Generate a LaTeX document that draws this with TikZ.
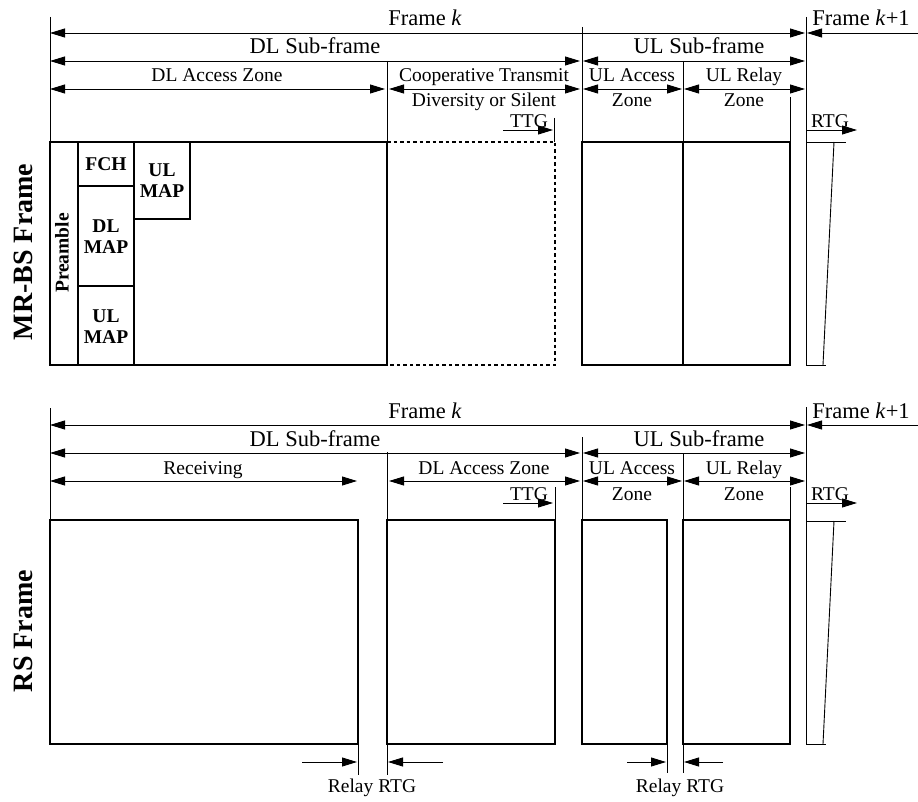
\documentclass[tikz,border=0pt]{standalone}
\usepackage{fontspec}
\setmainfont{Liberation Serif}
\usetikzlibrary{arrows.meta}
\begin{document}
\begin{tikzpicture}[x=1pt,y=-1pt,
  hair/.style={line width=0.9pt},
  frm/.style={line width=2pt},
  dim/.style={hair,{Triangle[length=15pt,width=9pt]}-{Triangle[length=15pt,width=9pt]}},
  rdim/.style={hair,-{Triangle[length=15pt,width=9pt]}},
  ldim/.style={hair,{Triangle[length=15pt,width=9pt]}-},
  lbl/.style={font=\fontsize{19.5}{21}\selectfont,inner sep=0pt,anchor=base},
  big/.style={font=\fontsize{22.5}{24}\selectfont,inner sep=0pt,anchor=base},
  bx/.style={font=\bfseries\fontsize{19.5}{21}\selectfont,align=center,inner sep=0pt},
  ttl/.style={font=\bfseries\fontsize{28}{30}\selectfont,rotate=90,inner sep=0pt}]
\useasboundingbox (0,0) rectangle (918,802);

%%%%%%%%%%%%%%%% Upper panel: MR-BS frame
% guide lines
\draw[hair] (50,17) -- (50,142);
\draw[hair] (387,61) -- (387,142);
\draw[hair] (582,27) -- (582,142);
\draw[hair] (683,61) -- (683,142);
\draw[hair] (806,17) -- (806,365);
\draw[hair] (790,97) -- (790,142);
\draw[hair] (554,118) -- (554,142);
% dimension arrows
\draw[dim] (50,33) -- (805,33);
\draw[ldim] (807,33) -- (918,33);
\draw[dim] (50,61) -- (580,61);
\draw[dim] (583,61) -- (805,61);
\draw[dim] (50,89) -- (385,89);
\draw[dim] (389,89) -- (580,89);
\draw[dim] (583,89) -- (682,89);
\draw[dim] (684,89) -- (805,89);
\draw[rdim] (503,130) -- (553,130);
\draw[rdim] (807,130) -- (857,130);
% labels
\node[big] (fk1) at (425,26) {Frame \textit{k}};
\node[big] (fkp1) at (861,26) {Frame \textit{k}+1};
\node[big] (dls1) at (315,54) {DL Sub-frame};
\node[big] (uls1) at (699,54) {UL Sub-frame};
\node[lbl] (dla1) at (217,82) {DL Access Zone};
\node[lbl] (coop1) at (484,82) {Cooperative Transmit};
\node[lbl] (coop2) at (484,107) {Diversity or Silent};
\node[lbl] (ula1) at (632,82) {UL Access};
\node[lbl] (ula2) at (632,107) {Zone};
\node[lbl] (ulr1) at (744,82) {UL Relay};
\node[lbl] (ulr2) at (744,107) {Zone};
\node[lbl] (ttg1) at (529,128) {TTG};
\node[lbl] (rtg1) at (830,128) {RTG};
% frame boxes
\draw[frm] (50,142) rectangle (387,365);
\draw[frm] (78,142) -- (78,365);
\draw[frm] (134,142) -- (134,365);
\draw[frm] (78,186) -- (134,186);
\draw[frm] (78,286) -- (134,286);
\draw[frm] (134,219) -- (190,219) -- (190,142);
\draw[frm,dash pattern=on 3.5pt off 3pt] (387,142) -- (555,142) -- (555,365) -- (387,365);
\draw[frm] (582,142) rectangle (790,365);
\draw[frm] (683,142) -- (683,365);
% RTG gap shape
\draw[hair] (806,142) -- (846,142);
\draw[hair] (834,142) -- (823,365);
\draw[hair] (806,365) -- (826,365);
% box texts
\node[ttl] (mrbs) at (23,252) {MR-BS Frame};
\node[bx,rotate=90] (pre) at (62,253) {Preamble};
\node[bx] (fch) at (106,164) {FCH};
\node[bx] (dlmap) at (106,237) {DL\\MAP};
\node[bx] (ulmap1) at (106,327) {UL\\MAP};
\node[bx] (ulmap2) at (162,181) {UL\\MAP};

%%%%%%%%%%%%%%%% Lower panel: RS frame
\draw[hair] (50,408) -- (50,520);
\draw[hair] (387,452) -- (387,520);
\draw[hair] (582,437) -- (582,520);
\draw[hair] (683,453) -- (683,520);
\draw[hair] (806,407) -- (806,744);
\draw[hair] (790,487) -- (790,520);
\draw[hair] (555,487) -- (555,520);
\draw[dim] (50,425) -- (805,425);
\draw[ldim] (807,425) -- (918,425);
\draw[dim] (50,453) -- (580,453);
\draw[dim] (583,453) -- (805,453);
\draw[dim] (50,481) -- (357,481);
\draw[dim] (389,481) -- (580,481);
\draw[dim] (583,481) -- (682,481);
\draw[dim] (684,481) -- (805,481);
\draw[rdim] (503,503) -- (553,503);
\draw[rdim] (807,503) -- (857,503);
\node[big] (fk2) at (425,418) {Frame \textit{k}};
\node[big] (fkp2) at (861,418) {Frame \textit{k}+1};
\node[big] (dls2) at (315,446) {DL Sub-frame};
\node[big] (uls2) at (699,446) {UL Sub-frame};
\node[lbl] (rcv) at (203,474) {Receiving};
\node[lbl] (dla2) at (484,474) {DL Access Zone};
\node[lbl] (ula3) at (632,474) {UL Access};
\node[lbl] (ula4) at (632,500) {Zone};
\node[lbl] (ulr3) at (744,474) {UL Relay};
\node[lbl] (ulr4) at (744,500) {Zone};
\node[lbl] (ttg2) at (529,500) {TTG};
\node[lbl] (rtg2) at (830,500) {RTG};
% boxes
\draw[frm] (50,520) rectangle (358,744);
\draw[frm] (387,520) rectangle (555,744);
\draw[frm] (582,520) rectangle (667,744);
\draw[frm] (683,520) rectangle (790,744);
\draw[hair] (806,521) -- (846,521);
\draw[hair] (834,521) -- (823,744);
\draw[hair] (806,744) -- (826,744);
% relay RTG
\draw[hair] (358,744) -- (358,775);
\draw[hair] (387,744) -- (387,775);
\draw[hair] (667,744) -- (667,773);
\draw[hair] (683,744) -- (683,773);
\draw[rdim] (302,762) -- (357,762);
\draw[rdim] (443,762) -- (388,762);
\draw[rdim] (627,762) -- (666,762);
\draw[rdim] (723,762) -- (684,762);
\node[lbl] (rr1) at (372,792) {Relay RTG};
\node[lbl] (rr2) at (680,792) {Relay RTG};
\node[ttl] (rsf) at (23,631) {RS Frame};
\end{tikzpicture}
\end{document}
